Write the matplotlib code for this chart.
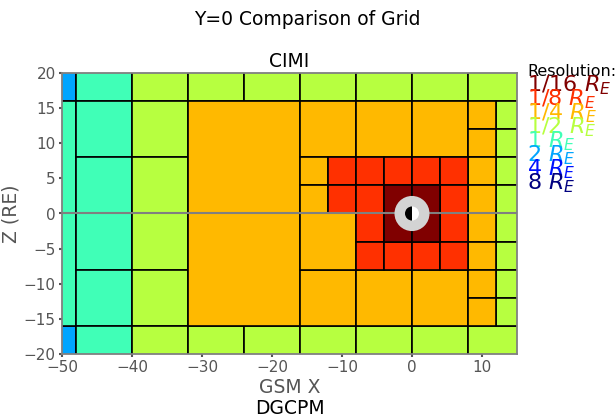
import numpy as np
import matplotlib.pyplot as plt
from matplotlib.patches import Rectangle, Circle, Wedge

# resolution levels, coarse -> fine (colours taken from jet in this order)
res_labels = ['8', '4', '2', '1', '1/2', '1/4', '1/8', '1/16']

# grid blocks (x0, z0, dx, dz) in R_E, one list per resolution
blocks_2 = [(-56, 16, 8, 8), (-56, -24, 8, 8)]
blocks_1 = [(-64, -16, 16, 32),
            (-48, 16, 8, 8), (-48, 8, 8, 8), (-48, 0, 8, 8), (-48, -8, 8, 8),
            (-48, -16, 8, 8), (-48, -24, 8, 8)]
blocks_half = [(-40, 16, 8, 8), (-40, 8, 8, 8), (-40, 0, 8, 8), (-40, -8, 8, 8),
               (-40, -16, 8, 8), (-40, -24, 8, 8),
               (-32, 16, 8, 8), (-24, 16, 8, 8), (-16, 16, 8, 8), (-8, 16, 8, 8),
               (0, 16, 8, 8), (8, 16, 8, 8),
               (-32, -24, 8, 8), (-24, -24, 8, 8), (-16, -24, 8, 8), (-8, -24, 8, 8),
               (0, -24, 8, 8), (8, -24, 8, 8),
               (12, 12, 4, 4), (12, 8, 4, 4), (12, 4, 4, 4), (12, 0, 4, 4),
               (12, -4, 4, 4), (12, -8, 4, 4), (12, -12, 4, 4), (12, -16, 4, 4)]
blocks_quarter = [(-32, 0, 16, 16), (-32, -16, 16, 16),
                  (-16, 8, 8, 8), (-8, 8, 8, 8), (0, 8, 8, 8),
                  (-16, -16, 8, 8), (-8, -16, 8, 8), (0, -16, 8, 8),
                  (-16, 4, 4, 4), (-16, 0, 4, 4), (-16, -8, 8, 8),
                  (8, 12, 4, 4), (8, 8, 4, 4), (8, 4, 4, 4), (8, 0, 4, 4),
                  (8, -4, 4, 4), (8, -8, 4, 4), (8, -12, 4, 4), (8, -16, 4, 4)]
blocks_eighth = [(-12, 4, 4, 4), (-12, 0, 4, 4),
                 (-8, 4, 4, 4), (-8, 0, 4, 4), (-8, -4, 4, 4), (-8, -8, 4, 4),
                 (-4, 4, 4, 4), (0, 4, 4, 4), (-4, -8, 4, 4), (0, -8, 4, 4),
                 (4, 4, 4, 4), (4, 0, 4, 4), (4, -4, 4, 4), (4, -8, 4, 4)]
blocks_16th = [(-4, 0, 4, 4), (0, 0, 4, 4), (-4, -4, 4, 4), (0, -4, 4, 4)]

grid = [('2', blocks_2), ('1', blocks_1), ('1/2', blocks_half),
        ('1/4', blocks_quarter), ('1/8', blocks_eighth), ('1/16', blocks_16th)]

colors = plt.cm.jet(np.linspace(0, 1, len(res_labels)))
cmap = dict(zip(res_labels, colors))

W, H = 615, 419
fig = plt.figure(figsize=(W / 100, H / 100), dpi=100)
ax = fig.add_axes([62 / W, 1 - 354 / H, 455 / W, 281 / H])

for lab, blks in grid:
    for x0, z0, dx, dz in blks:
        ax.add_patch(Rectangle((x0, z0), dx, dz, fc=cmap[lab], ec='k', lw=1.2))

ax.axhline(0, color='gray', lw=1.5, zorder=3)
ax.add_patch(Circle((0, 0), 2.5, fc='lightgray', ec='none', zorder=4))
ax.add_patch(Wedge((0, 0), 1, 90, 270, fc='k', ec='none', zorder=5))
ax.add_patch(Wedge((0, 0), 1, -90, 90, fc='w', ec='none', zorder=5))

ax.set_xlim(-50, 15)
ax.set_ylim(-20, 20)
ax.set_xticks([-50, -40, -30, -20, -10, 0, 10])
ax.set_yticks([-20, -15, -10, -5, 0, 5, 10, 15, 20])
for s in ax.spines.values():
    s.set_color('gray')
    s.set_linewidth(1.3)
ax.tick_params(colors='#555555', labelsize=11, length=2, width=1.5, pad=2.5)

ax.set_xlabel('GSM X', fontsize=13.5, color='#555555', labelpad=2)
ax.set_ylabel('Z (RE)', fontsize=13.5, color='#555555', labelpad=2)
ax.set_title('CIMI', fontsize=13.5, pad=4)
fig.suptitle('Y=0 Comparison of Grid', fontsize=13.5, y=0.975)
fig.text(290 / W, 1 - 414 / H, 'DGCPM', fontsize=13.5, ha='center', va='baseline')

# resolution key, fine -> coarse, each line overlapping the one above
fig.text(527 / W, 1 - 76 / H, 'Resolution:', fontsize=11.5, va='baseline')
for i, lab in enumerate(res_labels[::-1]):
    fig.text(527 / W, 1 - (91 + 14 * i) / H, lab + r' $R_E$', fontsize=16,
             color=cmap[lab], va='baseline')

fig.savefig('out.png', dpi=100)
